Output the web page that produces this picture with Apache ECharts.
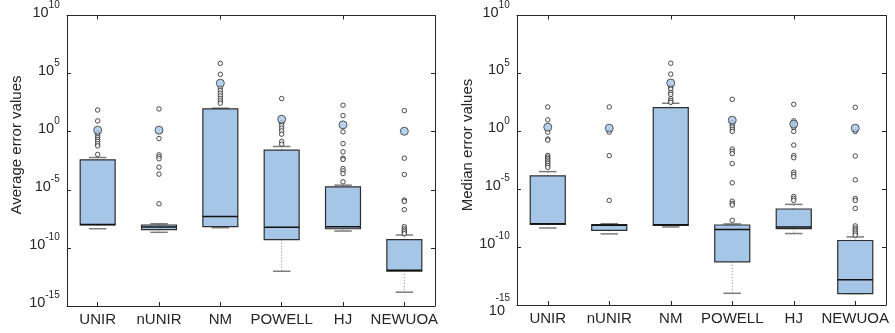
<!DOCTYPE html>
<html><head><meta charset="utf-8">
<script src="https://cdn.jsdelivr.net/npm/echarts@6/dist/echarts.min.js"></script>
<style>html,body{margin:0;padding:0;background:#fff}#c{width:895px;height:333px}</style>
</head><body><div id="c"></div>
<script>
// ---- data (exponents of 10) ----
const categories = ['UNIR', 'nUNIR', 'NM', 'POWELL', 'HJ', 'NEWUOA'];
const yMinExp = -15, yMaxExp = 10, yStepExp = 5;

// Left panel: Average error values
const avgLowerWhisker = [-8.35, -8.66, -8.26, -12.01, -8.55, -13.81];
const avgQ1           = [-8.03, -8.43, -8.17, -9.29, -8.35, -12.01];
const avgMedian       = [-7.98, -8.20, -7.29, -8.23, -8.17, -11.92];
const avgQ3           = [-2.42, -8.03, 1.96, -1.59, -4.74, -9.29];
const avgUpperWhisker = [-2.22, -7.92, 2.02, -1.27, -4.60, -8.89];
const avgMean         = [0.13, 0.13, 4.17, 1.07, 0.59, 0.04];
const avgOutliers = [
  [1.87, 0.93, -0.13, -0.33, -0.5, -0.67, -0.84, -1.04, -1.22, -1.96],
  [1.96, -0.59, -1.99, -2.16, -2.33, -3.05, -3.65, -6.2],
  [5.88, 4.94, 3.79, 3.54, 3.31, 3.08, 2.85, 2.65, 2.45],
  [2.85, 0.76, 0.53, 0.30, 0.07, -0.21, -0.84, -1.07],
  [2.28, 1.39, -0.01, -1.02, -1.73, -2.28, -2.39, -3.17, -3.37, -3.6, -4.31],
  [1.82, -2.28, -3.68, -5.88, -6.0, -6.71, -8.17, -8.35, -8.49, -8.63, -8.78]
];

// Right panel: Median error values
const medLowerWhisker = [-8.35, -8.86, -8.26, -13.99, -8.83, -14.01];
const medQ1           = [-8.03, -8.55, -8.12, -11.27, -8.40, -14.01];
const medMedian       = [-7.98, -8.12, -8.06, -8.49, -8.26, -12.81];
const medQ3           = [-3.85, -8.06, 2.05, -8.09, -6.71, -9.43];
const medUpperWhisker = [-3.48, -7.98, 2.42, -8.00, -6.31, -9.12];
const medMean         = [0.36, 0.27, 4.17, 0.96, 0.62, 0.27];
const medOutliers = [
  [2.1, 0.99, -0.07, -0.67, -0.76, -2.08, -2.22, -2.36, -2.5, -2.65, -2.79, -2.96, -3.11],
  [2.1, -0.07, -2.1, -5.97],
  [5.88, 4.94, 3.82, 3.65, 3.34, 3.19, 2.82, 2.65, 2.5],
  [2.76, 0.76, 0.53, 0.36, 0.16, -0.01, -1.53, -1.73, -1.93, -2.79, -4.45, -6.03, -6.23, -6.37, -7.69],
  [2.33, 0.9, 0.33, -0.01, -1.19, -2.1, -2.28, -3.53, -3.71, -3.91, -5.63, -5.8, -5.97],
  [2.07, -0.01, -2.13, -4.19, -5.8, -5.97, -6.66, -8.17, -8.35, -8.49, -8.63, -8.8, -8.97]
];

// ---- styling ----
const FONT = 'Liberation Sans, Arial, Helvetica, sans-serif';
const AX = '#262626';
const BOX_FILL = '#a6c6e8';
const BOX_EDGE = '#2e2e2e';
const WHISKER = '#7c7c7c';

const p = e => Math.pow(10, e);

function boxData(lw, q1, md, q3, uw) {
  return categories.map((c, i) => [i, p(lw[i]), p(q1[i]), p(md[i]), p(q3[i]), p(uw[i])]);
}
function outlierData(out) {
  const d = [];
  out.forEach((arr, i) => arr.forEach(v => d.push([i, p(v)])));
  return d;
}
function meanData(m) { return m.map((v, i) => [i, p(v)]); }

function renderBox(params, api) {
  const x = api.value(0);
  const lw = api.coord([x, api.value(1)]);
  const q1 = api.coord([x, api.value(2)]);
  const md = api.coord([x, api.value(3)]);
  const q3 = api.coord([x, api.value(4)]);
  const uw = api.coord([x, api.value(5)]);
  const band = api.size([1, 1])[0];
  const bw = band * 0.57, cw = bw * 0.5;
  const cx = q1[0];
  const ch = [];
  if (lw[1] - q1[1] > 1) ch.push({type: 'line', shape: {x1: cx, y1: q1[1], x2: cx, y2: lw[1]},
    style: {stroke: WHISKER, lineWidth: 1, lineDash: [1, 2]}});
  if (q3[1] - uw[1] > 1) ch.push({type: 'line', shape: {x1: cx, y1: q3[1], x2: cx, y2: uw[1]},
    style: {stroke: WHISKER, lineWidth: 1, lineDash: [1, 2]}});
  ch.push({type: 'line', shape: {x1: cx - cw / 2, y1: lw[1], x2: cx + cw / 2, y2: lw[1]},
    style: {stroke: WHISKER, lineWidth: 1.5}});
  ch.push({type: 'line', shape: {x1: cx - cw / 2, y1: uw[1], x2: cx + cw / 2, y2: uw[1]},
    style: {stroke: WHISKER, lineWidth: 1.5}});
  ch.push({type: 'rect', shape: {x: cx - bw / 2, y: q3[1], width: bw, height: q1[1] - q3[1]},
    style: {fill: BOX_FILL, stroke: BOX_EDGE, lineWidth: 1.2}});
  ch.push({type: 'line', shape: {x1: cx - bw / 2, y1: md[1], x2: cx + bw / 2, y2: md[1]},
    style: {stroke: '#111', lineWidth: 1.5}});
  return {type: 'group', children: ch};
}

function yLabel(special) {
  return function (v) {
    const e = Math.round(Math.log10(v));
    if (special && e === yMinExp) return '{sp| }\n{s2|' + e + '}\n{b2|10}{pd| }';
    return '{b|10}{sup|' + e + '}{st| }';
  };
}
const yRich = {
  b: {fontSize: 14.5, lineHeight: 14, verticalAlign: 'bottom', color: AX, fontFamily: FONT},
  sup: {fontSize: 10, lineHeight: 10, verticalAlign: 'top', color: AX, fontFamily: FONT},
  st: {fontSize: 1, lineHeight: 20, color: AX},
  sp: {fontSize: 1, lineHeight: 12, align: 'right'},
  s2: {fontSize: 10, lineHeight: 10, align: 'right', color: AX, fontFamily: FONT},
  b2: {fontSize: 14.5, lineHeight: 14, align: 'right', color: AX, fontFamily: FONT},
  pd: {fontSize: 1, width: 5, align: 'right'}
};

function xAxes(gridIndex) {
  return [
    {type: 'category', gridIndex, data: categories, position: 'bottom', boundaryGap: true,
      axisLine: {show: true, lineStyle: {color: AX, width: 1}},
      axisTick: {show: true, inside: true, length: 4, alignWithLabel: true, lineStyle: {color: AX}},
      axisLabel: {show: true, color: AX, fontSize: 15, fontFamily: FONT, margin: 6, interval: 0},
      splitLine: {show: false}},
    {type: 'category', gridIndex, data: categories, position: 'top', boundaryGap: true,
      axisLine: {show: true, lineStyle: {color: AX, width: 1}},
      axisTick: {show: true, inside: true, length: 4, alignWithLabel: true, lineStyle: {color: AX}},
      axisLabel: {show: false}, splitLine: {show: false}}
  ];
}
function yAxes(gridIndex, special) {
  const common = {type: 'log', logBase: 10, gridIndex, min: p(yMinExp), max: p(yMaxExp), interval: yStepExp,
    axisLine: {show: true, lineStyle: {color: AX, width: 1}},
    axisTick: {show: true, inside: true, length: 4, lineStyle: {color: AX}},
    splitLine: {show: false}, minorTick: {show: false}};
  return [
    Object.assign({}, common, {position: 'left',
      axisLabel: {show: true, formatter: yLabel(special), rich: yRich, margin: 7, padding: [0, 0, 11, 0]}}),
    Object.assign({}, common, {position: 'right', axisLabel: {show: false}})
  ];
}

function panelSeries(xi, yi, lw, q1, md, q3, uw, mean, out) {
  return [
    {type: 'custom', xAxisIndex: xi, yAxisIndex: yi, renderItem: renderBox,
      data: boxData(lw, q1, md, q3, uw), encode: {x: 0, y: [1, 2, 3, 4, 5]}, z: 2, silent: true},
    {type: 'scatter', xAxisIndex: xi, yAxisIndex: yi, data: outlierData(out), symbol: 'circle', symbolSize: 4.5,
      itemStyle: {color: '#fff', borderColor: '#222', borderWidth: 1}, z: 3, silent: true},
    {type: 'scatter', xAxisIndex: xi, yAxisIndex: yi, data: meanData(mean), symbol: 'circle', symbolSize: 8,
      itemStyle: {color: BOX_FILL, borderColor: '#333', borderWidth: 1}, z: 4, silent: true}
  ];
}

const chart = echarts.init(document.getElementById('c'), null, {renderer: 'canvas'});
chart.setOption({
  animation: false,
  backgroundColor: '#fff',
  grid: [
    {left: 67, top: 14, width: 368, height: 292},
    {left: 517, top: 14, width: 369, height: 291}
  ],
  xAxis: xAxes(0).concat(xAxes(1)),
  yAxis: yAxes(0, false).concat(yAxes(1, true)),
  graphic: [
    {type: 'text', x: 17, y: 145, rotation: Math.PI / 2,
      style: {text: 'Average error values', font: '15px ' + FONT, fill: AX, align: 'center', verticalAlign: 'middle'}},
    {type: 'text', x: 468, y: 145, rotation: Math.PI / 2,
      style: {text: 'Median error values', font: '15px ' + FONT, fill: AX, align: 'center', verticalAlign: 'middle'}}
  ],
  series: panelSeries(0, 0, avgLowerWhisker, avgQ1, avgMedian, avgQ3, avgUpperWhisker, avgMean, avgOutliers)
    .concat(panelSeries(2, 2, medLowerWhisker, medQ1, medMedian, medQ3, medUpperWhisker, medMean, medOutliers))
});
</script>
</body></html>
